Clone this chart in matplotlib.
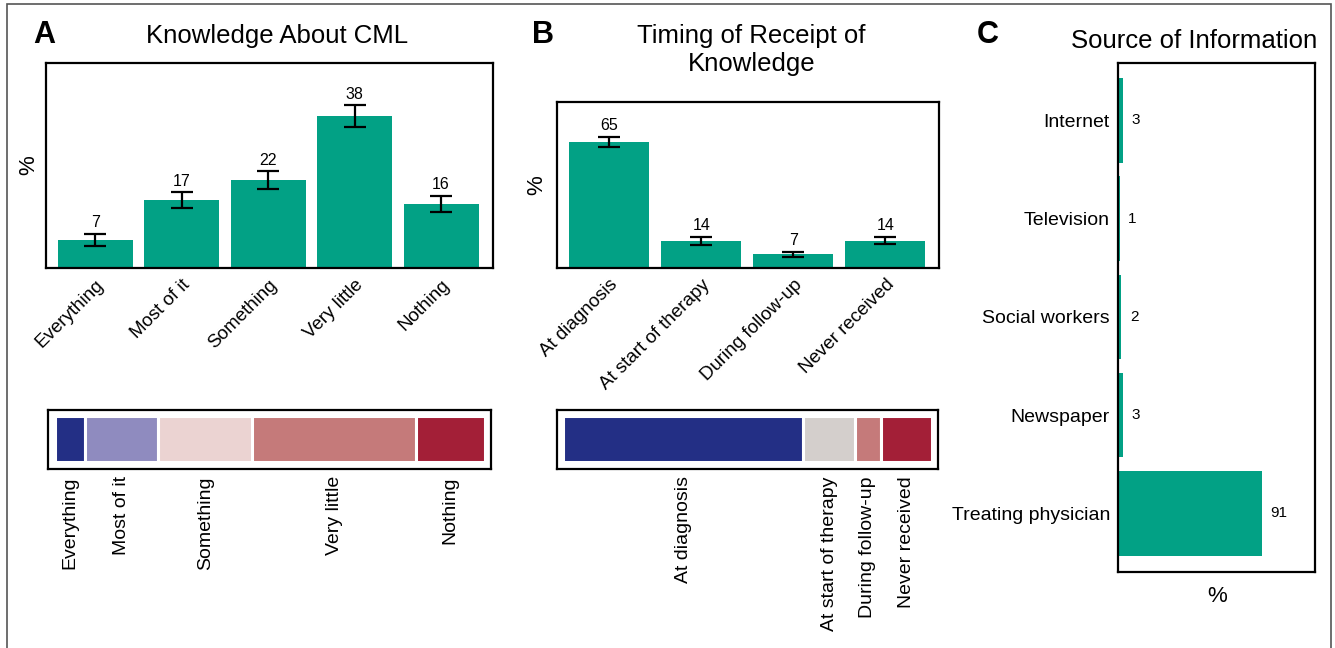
import matplotlib
matplotlib.use("Agg")
import matplotlib.pyplot as plt
from matplotlib.patches import Rectangle
from matplotlib.transforms import ScaledTranslation
import numpy as np

plt.rcParams['font.family'] = ['Liberation Sans', 'DejaVu Sans']

# ---------------- data ----------------
know_cats = ["Everything", "Most of it", "Something", "Very little", "Nothing"]
know_vals = [7, 17, 22, 38, 16]
know_err = [1.6, 1.95, 2.2, 2.7, 2.0]
know_colors = ["#232f85", "#8f8bbf", "#ebd3d2", "#c57a7a", "#a31f37"]

timing_cats = ["At diagnosis", "At start of therapy", "During follow-up", "Never received"]
timing_vals = [65, 14, 7, 14]
timing_err = [2.75, 2.1, 1.3, 1.9]
timing_colors = ["#232f85", "#d4cfcc", "#c57a7a", "#a31f37"]

source_cats = ["Internet", "Television", "Social workers", "Newspaper", "Treating physician"]
source_vals = [3, 1, 2, 3, 91]

TEAL = "#02a185"
W, H = 1335, 648

fig = plt.figure(figsize=(W / 100, H / 100), dpi=100)


def ax_px(x0, y0, x1, y1):
    return fig.add_axes([x0 / W, 1 - y1 / H, (x1 - x0) / W, (y1 - y0) / H])


def style_box(ax):
    for s in ax.spines.values():
        s.set_linewidth(1.6)
        s.set_color("black")
    ax.tick_params(length=0)


def bar_panel(ax, cats, vals, errs, ymax, xlim, dx):
    x = np.arange(len(cats))
    ax.bar(x, vals, width=0.87, color=TEAL, zorder=2)
    ax.errorbar(x, vals, yerr=errs, fmt="none", ecolor="black",
                elinewidth=1.6, capsize=8, capthick=1.6, zorder=3)
    for xi, v, e in zip(x, vals, errs):
        ax.annotate(str(v), (xi, v + e), xytext=(0, 2.5), textcoords="offset points",
                    ha="center", va="bottom", fontsize=11.5)
    ax.set_xlim(*xlim)
    ax.set_ylim(0, ymax)
    ax.set_yticks([])
    ax.set_xticks(x)
    ax.set_xticklabels(cats, rotation=45, ha="right", rotation_mode="anchor", fontsize=13.5)
    ax.tick_params(axis="x", pad=6)
    off = ScaledTranslation(dx / 100, 0, fig.dpi_scale_trans)
    for lab in ax.get_xticklabels():
        lab.set_transform(lab.get_transform() + off)
    style_box(ax)


def stack_panel(ax, cats, vals, colors, xlim):
    left = 0
    centers = []
    for v, c in zip(vals, colors):
        ax.barh(0, v, left=left, height=0.79, color=c, edgecolor="white", linewidth=2.2)
        centers.append(left + v / 2)
        left += v
    ax.set_xlim(*xlim)
    ax.set_ylim(-0.5, 0.5)
    ax.set_yticks([])
    ax.set_xticks(centers)
    ax.set_xticklabels(cats, rotation=90, fontsize=14, va="top", ha="center")
    ax.tick_params(axis="x", pad=5.5)
    style_box(ax)


# Panel A
axA = ax_px(46, 63, 493, 268)
bar_panel(axA, know_cats, know_vals, know_err, 51.2, (-0.57, 4.6), 12)
axA.set_ylabel("%", fontsize=16, labelpad=5)

# Panel B
axB = ax_px(556.7, 101.7, 938.7, 267.7)
bar_panel(axB, timing_cats, timing_vals, timing_err, 85.8, (-0.57, 3.58), 10)
axB.set_ylabel("%", fontsize=16, labelpad=7)

# Stacked bars
axSA = ax_px(47.8, 410, 491, 468.5)
stack_panel(axSA, know_cats, know_vals, know_colors, (-1.6, 101.5))
axSB = ax_px(557, 410, 938, 468.5)
stack_panel(axSB, timing_cats, timing_vals, timing_colors, (-1.76, 101.5))

# Panel C
axC = ax_px(1118.3, 63.2, 1315, 572.3)
y = np.arange(len(source_cats))
axC.barh(y, source_vals, height=0.86, color=TEAL, zorder=2)
for yi, v in zip(y, source_vals):
    axC.annotate(str(v), (v, yi), xytext=(6, 0), textcoords="offset points",
                 ha="left", va="center", fontsize=11)
axC.set_ylim(4.6, -0.583)
axC.set_xlim(0, 124.6)
axC.set_xticks([])
axC.set_yticks(y)
axC.set_yticklabels(source_cats, fontsize=14)
axC.tick_params(axis="y", pad=6)
axC.set_xlabel("%", fontsize=16, labelpad=10)
style_box(axC)

# Titles and panel letters
fig.text(277 / W, 1 - 43 / H, "Knowledge About CML", fontsize=18.5, ha="center", va="baseline")
fig.text(751.5 / W, 1 - 43 / H, "Timing of Receipt of", fontsize=18.5, ha="center", va="baseline")
fig.text(751.5 / W, 1 - 71 / H, "Knowledge", fontsize=18.5, ha="center", va="baseline")
fig.text(1194 / W, 1 - 47.5 / H, "Source of Information", fontsize=18.5, ha="center", va="baseline")
for lx, ly, letter in [(33, 43, "A"), (532, 43, "B"), (977, 43, "C")]:
    fig.text(lx / W, 1 - ly / H, letter, fontsize=22, fontweight="bold", ha="left", va="baseline")

# Outer frame
fig.patches.append(Rectangle((6.5 / W, -0.05), (1330.5 - 6.5) / W, 1.05 - 4.5 / H,
                             transform=fig.transFigure, fill=False,
                             edgecolor="#555555", linewidth=1.2))

fig.savefig("out.png", dpi=100)
